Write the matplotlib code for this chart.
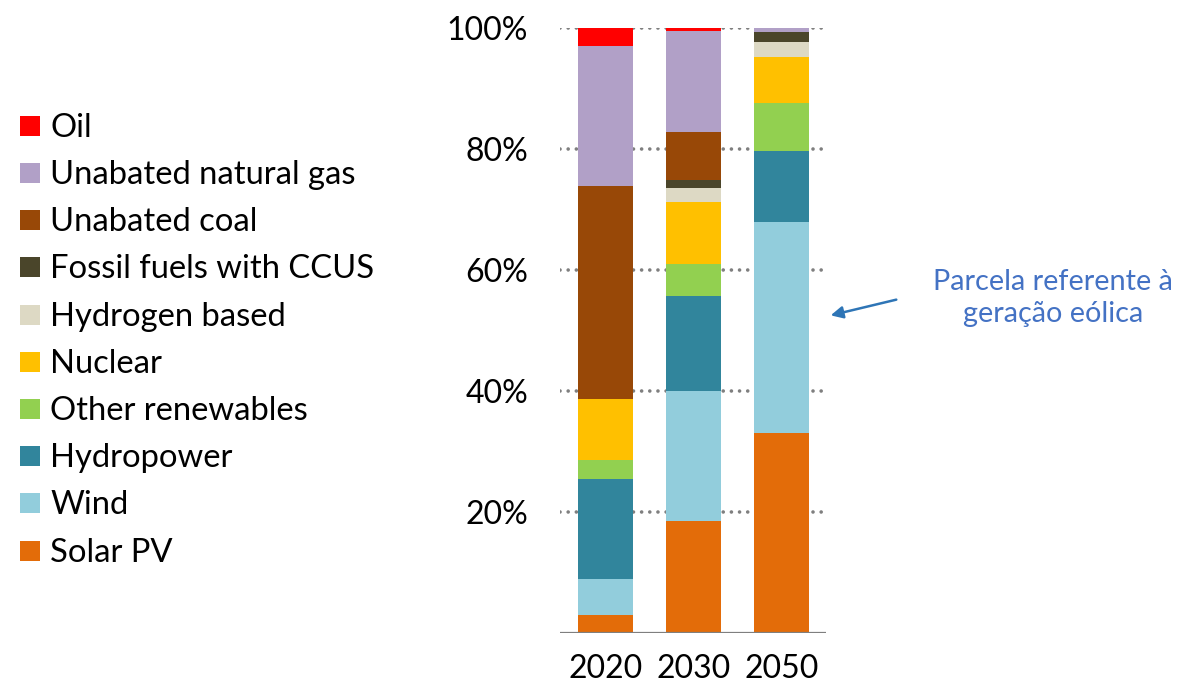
""" stacked share of electricity generation by source, 2020 / 2030 / 2050 """
import matplotlib
matplotlib.use('Agg')
import matplotlib.pyplot as plt
from matplotlib.patches import Rectangle
import numpy as np

plt.rcParams['font.family'] = ['Lato', 'DejaVu Sans']

# data (percent of generation)
years = ['2020', '2030', '2050']
sources = ['Solar PV', 'Wind', 'Hydropower', 'Other renewables', 'Nuclear',
           'Hydrogen based', 'Fossil fuels with CCUS', 'Unabated coal',
           'Unabated natural gas', 'Oil']
solar_pv = [3.0, 18.6, 33.0]
wind = [5.9, 21.5, 34.9]
hydropower = [16.5, 15.7, 11.8]
other_renewables = [3.2, 5.3, 7.9]
nuclear = [10.1, 10.1, 7.7]
hydrogen_based = [0.0, 2.4, 2.4]
fossil_ccus = [0.0, 1.3, 1.7]
unabated_coal = [35.2, 7.9, 0.0]
unabated_gas = [23.2, 16.7, 0.6]
oil = [2.9, 0.5, 0.0]

colors = ['#E36C09', '#92CDDC', '#31859C', '#92D050', '#FFC000',
          '#DDD9C4', '#4A452A', '#984807', '#B1A0C7', '#FF0000']
yticks = [20, 40, 60, 80, 100]

series = [solar_pv, wind, hydropower, other_renewables, nuclear,
          hydrogen_based, fossil_ccus, unabated_coal, unabated_gas, oil]

W, H = 1181, 683
fig = plt.figure(figsize=(W / 100, H / 100), dpi=100)
ax = fig.add_axes([560 / W, 1 - 633 / H, 266 / W, (633 - 28.3) / H])

x = np.arange(len(years))
bottom = np.zeros(len(years))
for vals, col, name in zip(series, colors, sources):
    ax.bar(x, vals, width=0.625, bottom=bottom, color=col, linewidth=0, label=name, zorder=2)
    bottom += np.array(vals)

# dotted grid
for t in yticks:
    ax.axhline(t, color='#7f7f7f', linewidth=2.6, linestyle=(0, (0.01, 2.25)),
               dash_capstyle='round', zorder=1)
ax.axhline(0, color='#7f7f7f', linewidth=1.6, zorder=3)

ax.set_xlim(-0.52, 2.5)
ax.set_ylim(0, 100)
ax.set_xticks(x)
ax.set_xticklabels(years)
ax.set_yticks(yticks)
ax.set_yticklabels([f'{t}%' for t in yticks])
ax.tick_params(axis='both', length=0, labelsize=23, colors='black')
ax.tick_params(axis='y', pad=23)
ax.tick_params(axis='x', pad=15)
for s in ax.spines.values():
    s.set_visible(False)

# legend, drawn by hand (top entry = Oil)
for i, (name, col) in enumerate(zip(sources[::-1], colors[::-1])):
    yc = 125.7 + i * 47.2
    fig.add_artist(Rectangle((20 / W, 1 - (yc + 10) / H), 20 / W, 20 / H,
                             transform=fig.transFigure, color=col, linewidth=0))
    fig.text(50 / W, 1 - (yc + 11) / H, name, fontsize=23.6, va='baseline', ha='left')

# annotation
fig.text(1053 / W, 1 - 298 / H, 'Parcela referente à\ngeração eólica', color='#4472C4',
         fontsize=20.8, ha='center', va='center', linespacing=1.3)
ax.annotate('', xy=(828 / W, 1 - 316 / H), xytext=(899 / W, 1 - 299 / H),
            xycoords='figure fraction', textcoords='figure fraction',
            arrowprops=dict(arrowstyle='-|>', color='#2E75B6', lw=1.8, mutation_scale=18))

fig.savefig('out.png', dpi=100)
